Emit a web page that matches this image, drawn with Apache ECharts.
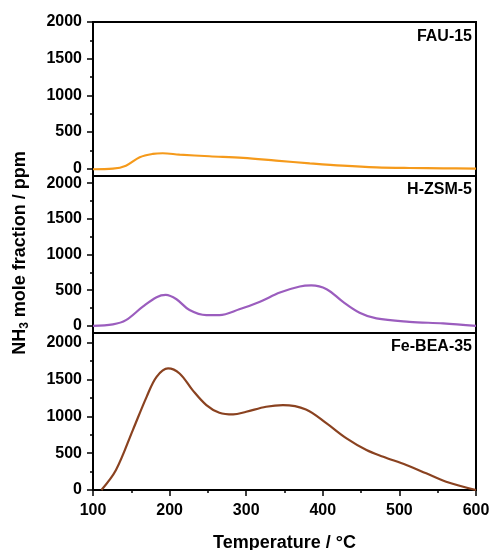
<!DOCTYPE html>
<html>
<head>
<meta charset="utf-8">
<script src="https://cdn.jsdelivr.net/npm/echarts@6/dist/echarts.min.js"></script>
<style>html,body{margin:0;padding:0;background:#fff;}#c{width:492px;height:550px;}</style>
</head>
<body>
<div id="c"></div>
<script>
const xTicks = [100, 200, 300, 400, 500, 600];
const yMajor = [0, 500, 1000, 1500, 2000];
const yMinor = [250, 750, 1250, 1750];
const panelNames = ['FAU-15', 'H-ZSM-5', 'Fe-BEA-35'];

const tempFAU = [100,126,143,161,178,191,213,252,296,339,383,426,470,513,557,600];
const fau15   = [-8,0,41,155,201,210,192,169,146,110,73,41,18,9,5,0];

const tempZSM = [100,126,143,165,183,195,209,226,248,265,291,318,344,370,385,405,426,448,470,513,557,600];
const hzsm5   = [0,20,80,269,402,434,373,222,151,151,232,339,467,552,566,514,339,184,104,57,34,0];

const tempBEA = [111,130,152,170,183,198,213,230,248,265,283,300,326,348,378,405,431,457,479,509,535,561,600];
const febea35 = [0,271,813,1264,1535,1649,1581,1355,1152,1048,1025,1061,1129,1152,1093,903,700,542,451,339,226,113,0];

const colors = ['#F59A1B', '#9B5DBE', '#8A4220'];
const FONT = "'Liberation Sans', Arial, sans-serif";

const pairs = (xs, ys) => xs.map((x, i) => [x, ys[i]]);
const seriesData = [pairs(tempFAU, fau15), pairs(tempZSM, hzsm5), pairs(tempBEA, febea35)];

const grids = [
  {left: 93, right: 16, top: 22, height: 154},
  {left: 93, right: 16, top: 176, height: 157},
  {left: 93, right: 16, top: 333, height: 157}
].map(g => Object.assign(g, {show: true, borderColor: '#000', borderWidth: 2, backgroundColor: 'transparent',
  containLabel: false, outerBoundsMode: 'none'}));

const yRanges = [[-100, 2000], [-100, 2100], [0, 2130]];
const plain = v => String(v);

const xAxes = [];
const yAxes = [];
const series = [];
for (let i = 0; i < 3; i++) {
  const isBottom = i === 2;
  xAxes.push({
    type: 'value', gridIndex: i, min: 100, max: 600, interval: 100, position: 'bottom',
    axisLine: {show: true, onZero: false, lineStyle: {color: '#000', width: 2}},
    axisTick: {show: isBottom, inside: false, length: 6, lineStyle: {color: '#000', width: 1.5}},
    minorTick: {show: isBottom, splitNumber: 2, length: 3, lineStyle: {color: '#000', width: 1.5}},
    axisLabel: {show: isBottom, color: '#000', fontWeight: 'bold', fontSize: 16, fontFamily: FONT, margin: 13,
      customValues: xTicks, formatter: plain},
    splitLine: {show: false},
    name: isBottom ? 'Temperature / °C' : '',
    nameLocation: 'middle', nameGap: 44,
    nameTextStyle: {color: '#000', fontWeight: 'bold', fontSize: 18, fontFamily: FONT}
  });
  yAxes.push({
    type: 'value', gridIndex: i, min: yRanges[i][0], max: yRanges[i][1], position: 'left',
    axisLine: {show: true, onZero: false, lineStyle: {color: '#000', width: 2}},
    axisTick: {show: true, inside: false, length: 6, customValues: yMajor, lineStyle: {color: '#000', width: 1.5}},
    axisLabel: {show: true, customValues: yMajor, formatter: plain, color: '#000', fontWeight: 'bold', fontSize: 16, fontFamily: FONT, margin: 11},
    splitLine: {show: false}
  });
  yAxes.push({
    type: 'value', gridIndex: i, min: yRanges[i][0], max: yRanges[i][1], position: 'left',
    axisLine: {show: false, onZero: false},
    axisTick: {show: true, inside: false, length: 3, customValues: yMinor, lineStyle: {color: '#000', width: 1.5}},
    axisLabel: {show: false},
    splitLine: {show: false}
  });
  series.push({
    type: 'line', name: panelNames[i], xAxisIndex: i, yAxisIndex: i * 2,
    data: seriesData[i], smooth: 0.35, showSymbol: false, symbol: 'none',
    lineStyle: {color: colors[i], width: 2.2}, clip: true
  });
}

const labelYs = [38, 191, 348];
const graphic = panelNames.map((n, i) => ({
  type: 'text', right: 20, top: labelYs[i] - 9,
  style: {text: n, fill: '#000', font: 'bold 16px ' + FONT, textAlign: 'right'}
}));
graphic.push({
  type: 'text', x: 20, y: 253, rotation: Math.PI / 2,
  style: {
    text: '{a|NH}{s|3}{a| mole fraction / ppm}',
    align: 'center', verticalAlign: 'middle',
    rich: {
      a: {fill: '#000', fontWeight: 'bold', fontSize: 18, fontFamily: FONT},
      s: {fill: '#000', fontWeight: 'bold', fontSize: 12, fontFamily: FONT, padding: [9, 0, 0, 0]}
    }
  }
});

const chart = echarts.init(document.getElementById('c'), null, {renderer: 'canvas'});
chart.setOption({
  animation: false,
  backgroundColor: '#fff',
  grid: grids,
  xAxis: xAxes,
  yAxis: yAxes,
  series: series,
  graphic: graphic
});
</script>
</body>
</html>
